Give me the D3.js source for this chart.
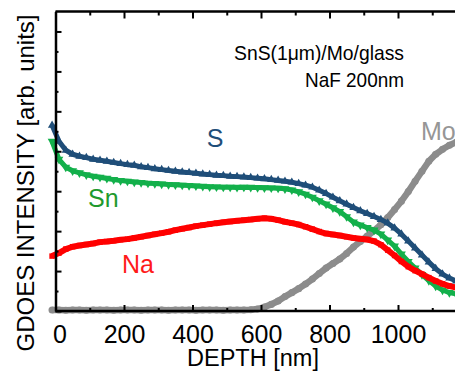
<!DOCTYPE html>
<html><head><meta charset="utf-8">
<script src="https://cdn.jsdelivr.net/npm/d3@7"></script>
<style>
html,body{margin:0;padding:0;background:#fff;overflow:hidden;}
text{font-family:"Liberation Sans",Arial,Helvetica,sans-serif;}
</style></head>
<body>
<svg id="chart" width="455" height="371"></svg>
<script>
// depth [nm]
const depth = [-10,10,30,50,70,90,110,130,150,170,190,210,230,250,270,290,310,330,350,370,
  390,410,430,450,470,490,510,530,550,570,590,610,630,650,670,690,710,730,750,770,
  790,810,830,850,870,890,910,930,950,970,990,1010,1030,1050,1070,1090,1110,1130,1150,1170];
const sValues = [9.3,8.5,8.05,7.85,7.75,7.68,7.6,7.55,7.5,7.44,7.38,7.33,7.3,7.22,7.18,7.12,7.08,7.04,7.0,6.96,
  6.93,6.9,6.86,6.83,6.8,6.78,6.75,6.73,6.71,6.68,6.65,6.62,6.58,6.54,6.5,6.45,6.38,6.3,6.2,6.05,
  5.88,5.7,5.52,5.35,5.18,5.02,4.88,4.73,4.58,4.4,4.15,3.85,3.5,3.15,2.8,2.45,2.12,1.85,1.65,1.5];
const snValues = [8.5,7.6,7.2,7.02,6.92,6.82,6.75,6.7,6.64,6.58,6.53,6.5,6.46,6.43,6.4,6.38,6.36,6.33,6.32,6.3,
  6.28,6.26,6.24,6.22,6.21,6.2,6.2,6.19,6.2,6.19,6.18,6.17,6.16,6.15,6.12,6.06,5.97,5.85,5.7,5.52,
  5.35,5.17,4.98,4.72,4.45,4.3,4.18,4.05,3.85,3.55,3.25,2.85,2.48,2.15,1.82,1.52,1.25,1.05,0.92,0.85];
const naValues = [2.75,2.9,3.1,3.22,3.28,3.33,3.38,3.45,3.48,3.52,3.57,3.6,3.66,3.72,3.78,3.84,3.9,3.97,4.05,4.12,
  4.18,4.25,4.3,4.35,4.4,4.44,4.48,4.52,4.55,4.58,4.62,4.65,4.62,4.55,4.47,4.4,4.33,4.22,4.1,3.98,
  3.88,3.83,3.78,3.72,3.66,3.62,3.58,3.5,3.32,3.05,2.78,2.48,2.22,2.02,1.85,1.67,1.5,1.36,1.25,1.18];
const moValues = [0.05,0.05,0.04,0.05,0.05,0.04,0.05,0.05,0.05,0.04,0.05,0.05,0.05,0.04,0.05,0.05,0.05,0.04,0.05,0.05,
  0.05,0.04,0.05,0.05,0.05,0.04,0.05,0.05,0.05,0.06,0.1,0.2,0.33,0.5,0.72,0.92,1.12,1.35,1.6,1.88,
  2.15,2.38,2.6,2.88,3.2,3.48,3.75,4.02,4.32,4.68,5.08,5.5,5.98,6.5,7.0,7.5,7.85,8.1,8.3,8.45];

const xMajor = [0,200,400,600,800,1000];
const xMinor = [100,300,500,700,900,1100];
const yMajor = [0,2,4,6,8,10,12,14];
const yMinor = [1,3,5,7,9,11,13];

const seriesNames = ["Mo","Sn","Na","S"];
const seriesColors = {S:"#1f4e79", Sn:"#13b04b", Na:"#ff0000", Mo:"#8c8c8c"};
const labelColors = {S:"#1f4e79", Sn:"#1f9a2e", Na:"#ff1a1a", Mo:"#969696"};
const seriesData = {S:sValues, Sn:snValues, Na:naValues, Mo:moValues};

const svg = d3.select("#chart");
const plotLeft = 55.5, plotTop = 11.5, plotBottom = 311;
const x = d3.scaleLinear().domain([0,1200]).range([plotLeft, plotLeft + 1200*0.3425]);
const y = d3.scaleLinear().domain([0,15]).range([plotBottom, plotTop]);

// data
const gData = svg.append("g");
const symbols = {
  S: d3.symbol().type(d3.symbolTriangle).size(30),
  Sn: d3.symbol().type(d3.symbolTriangle).size(34),
  Na: d3.symbol().type(d3.symbolSquare).size(30),
  Mo: d3.symbol().type(d3.symbolCircle).size(40)
};
const lineWidths = {S:5, Sn:5, Na:6, Mo:6.5};
seriesNames.forEach(name => {
  const vals = seriesData[name];
  const pts = depth.map((d,i)=>[d, vals[i]]);
  gData.append("path")
    .attr("d", d3.line().x(p=>x(p[0])).y(p=>y(p[1]))(pts))
    .attr("fill","none").attr("stroke", seriesColors[name])
    .attr("stroke-width", lineWidths[name]).attr("stroke-linejoin","round");
  gData.selectAll(null).data(pts).join("path")
    .attr("d", symbols[name])
    .attr("transform", p => `translate(${x(p[0])},${y(p[1])})` + (name==="Sn" ? " rotate(180)" : ""))
    .attr("fill", seriesColors[name]);
});

// axes
const axisStyle = g => {
  g.selectAll(".domain").attr("stroke","#000").attr("stroke-width",2.5);
  g.selectAll(".tick line").attr("stroke","#000").attr("stroke-width",2);
};
const bAxis = svg.append("g").attr("transform",`translate(0,${plotBottom})`)
  .call(d3.axisBottom(x).tickValues(xMajor).tickSizeInner(-6).tickSizeOuter(0).tickPadding(14).tickFormat(d3.format("d")))
  .call(axisStyle);
bAxis.select(".domain").attr("d", `M${plotLeft},0H455`);
bAxis.selectAll("text").attr("font-size",25).attr("fill","#000")
  .attr("font-family","Liberation Sans, Arial, sans-serif");
bAxis.selectAll(".tick").filter(d=>d===0).select("text").attr("x",4);
svg.append("g").attr("transform",`translate(0,${plotBottom})`)
  .call(d3.axisBottom(x).tickValues(xMinor).tickSizeInner(-3).tickSizeOuter(0).tickFormat(""))
  .call(axisStyle).select(".domain").remove();
const tAxis = svg.append("g").attr("transform",`translate(0,${plotTop})`)
  .call(d3.axisTop(x).tickValues(xMajor).tickSizeInner(-7).tickSizeOuter(0).tickFormat(""))
  .call(axisStyle);
tAxis.select(".domain").attr("d", `M${plotLeft},0H455`);
svg.append("g").attr("transform",`translate(0,${plotTop})`)
  .call(d3.axisTop(x).tickValues(xMinor).tickSizeInner(-4).tickSizeOuter(0).tickFormat(""))
  .call(axisStyle).select(".domain").remove();
svg.append("g").attr("transform",`translate(${plotLeft},0)`)
  .call(d3.axisLeft(y).tickValues(yMajor).tickSizeInner(-6).tickSizeOuter(0).tickFormat(""))
  .call(axisStyle);
svg.append("g").attr("transform",`translate(${plotLeft},0)`)
  .call(d3.axisLeft(y).tickValues(yMinor).tickSizeInner(-3).tickSizeOuter(0).tickFormat(""))
  .call(axisStyle).select(".domain").remove();

// axis titles
svg.append("text").attr("x",253).attr("y",365.5).attr("text-anchor","middle")
  .attr("font-size",23.5).text("DEPTH [nm]");
svg.append("text").attr("transform","translate(34,183) rotate(-90)").attr("text-anchor","middle")
  .attr("font-size",24).text("GDOES INTENSITY [arb. units]");

// annotation
svg.append("text").attr("x",404).attr("y",60).attr("text-anchor","end")
  .attr("font-size",21).attr("textLength",170).attr("lengthAdjust","spacingAndGlyphs")
  .text("SnS(1\u03bcm)/Mo/glass");
svg.append("text").attr("x",404).attr("y",87).attr("text-anchor","end")
  .attr("font-size",21).attr("textLength",99).attr("lengthAdjust","spacingAndGlyphs")
  .text("NaF 200nm");

// series labels
const labels = [
  {name:"S", x:215, y:147, anchor:"middle"},
  {name:"Sn", x:88, y:207, anchor:"start"},
  {name:"Na", x:122, y:273, anchor:"start"},
  {name:"Mo", x:421, y:140, anchor:"start"}
];
labels.forEach(l => svg.append("text").attr("x",l.x).attr("y",l.y).attr("text-anchor",l.anchor)
  .attr("font-size",25).attr("fill",labelColors[l.name]).text(l.name));
</script>
</body></html>
